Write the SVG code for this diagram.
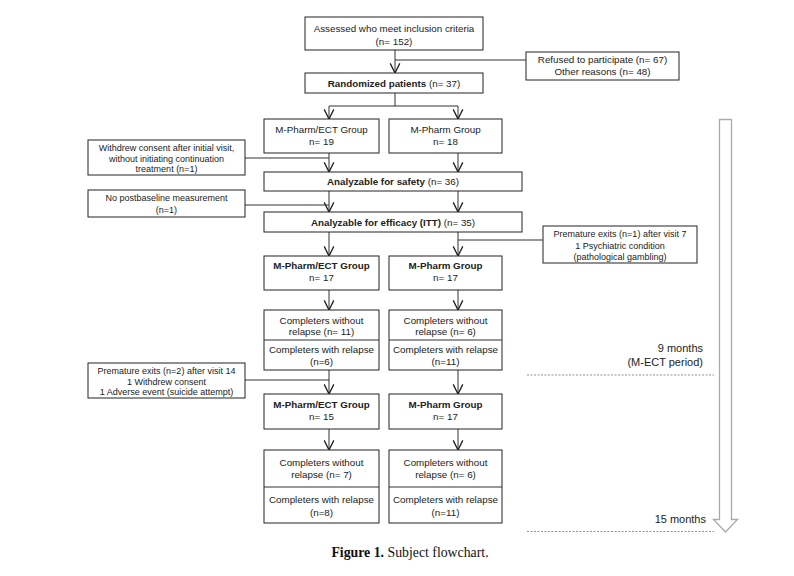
<svg xmlns="http://www.w3.org/2000/svg" width="794" height="576" viewBox="0 0 794 576">
<defs>
<marker id="ah" markerUnits="userSpaceOnUse" markerWidth="12" markerHeight="12" viewBox="0 0 10 10" refX="9" refY="5" orient="auto">
<path d="M1,1 L9,5 L1,9" fill="none" stroke="#222" stroke-width="1.1"/>
</marker>
<style>
.box{fill:#fff;stroke:#222;stroke-width:1}
.t{font-family:"Liberation Sans",Arial,sans-serif;font-size:9.8px;fill:#222;text-anchor:middle}
.s{font-family:"Liberation Sans",Arial,sans-serif;font-size:9px;fill:#222;text-anchor:middle}
.b{font-weight:bold}
.ln{fill:none;stroke:#333;stroke-width:1}
.ar{fill:none;stroke:#333;stroke-width:1;marker-end:url(#ah)}
.dash{fill:none;stroke:#777;stroke-width:0.8;stroke-dasharray:2,1.5}
.tm{font-family:"Liberation Sans",Arial,sans-serif;font-size:11px;fill:#222;text-anchor:end}
</style>
</defs>
<rect width="794" height="576" fill="#fff"/>

<g id="connectors">
<path class="ar" d="M395,50 V73"/>
<path class="ln" d="M395,60 H526"/>
<path class="ln" d="M395,93 V106 M329,106 H458"/>
<path class="ar" d="M329,106 V119"/>
<path class="ar" d="M458,106 V119"/>
<path class="ar" d="M329,153 V172"/>
<path class="ar" d="M458,153 V172"/>
<path class="ln" d="M245,158 H329"/>
<path class="ar" d="M329,191 V212"/>
<path class="ar" d="M458,191 V212"/>
<path class="ln" d="M245,205 H329"/>
<path class="ar" d="M329,232 V256"/>
<path class="ar" d="M458,232 V256"/>
<path class="ln" d="M458,240 H543"/>
<path class="ar" d="M329,290 V310"/>
<path class="ar" d="M458,290 V310"/>
<path class="ar" d="M329,370 V394"/>
<path class="ar" d="M458,370 V394"/>
<path class="ln" d="M245,380 H329"/>
<path class="ar" d="M329,429 V450"/>
<path class="ar" d="M458,429 V450"/>
</g>

<g id="n-assessed">
<rect class="box" x="305" y="17" width="178" height="33"/>
<text class="t" x="394" y="32">Assessed who meet inclusion criteria</text>
<text class="t" x="394" y="45">(n= 152)</text>
</g>
<g id="n-refused">
<rect class="box" x="526" y="52" width="153" height="28"/>
<text class="t" x="602.5" y="63">Refused to participate (n= 67)</text>
<text class="t" x="602.5" y="75">Other reasons (n= 48)</text>
</g>
<g id="n-randomized">
<rect class="box" x="305" y="73" width="178" height="20"/>
<text class="t" x="394" y="86.5"><tspan class="b">Randomized patients</tspan> (n= 37)</text>
</g>
<g id="n-ect19">
<rect class="box" x="264" y="119" width="115" height="34"/>
<text class="t" x="321.5" y="133">M-Pharm/ECT Group</text>
<text class="t" x="321.5" y="145">n= 19</text>
</g>
<g id="n-ph18">
<rect class="box" x="389" y="119" width="113" height="34"/>
<text class="t" x="445.5" y="133">M-Pharm Group</text>
<text class="t" x="445.5" y="145">n= 18</text>
</g>
<g id="n-withdrew">
<rect class="box" x="88" y="140" width="157" height="35"/>
<text class="s" x="166.5" y="151">Withdrew consent after initial visit,</text>
<text class="s" x="166.5" y="161.5">without initiating continuation</text>
<text class="s" x="166.5" y="172">treatment (n=1)</text>
</g>
<g id="n-safety">
<rect class="box" x="264" y="172" width="258" height="19"/>
<text class="t" x="393" y="185"><tspan class="b">Analyzable for safety</tspan>  (n= 36)</text>
</g>
<g id="n-nopost">
<rect class="box" x="88" y="190" width="157" height="27"/>
<text class="s" x="166.5" y="201">No postbaseline measurement</text>
<text class="s" x="166.5" y="212.5">(n=1)</text>
</g>
<g id="n-efficacy">
<rect class="box" x="264" y="212" width="258" height="20"/>
<text class="t" x="393" y="225.5"><tspan class="b">Analyzable for efficacy (ITT)</tspan> (n= 35)</text>
</g>
<g id="n-premature1">
<rect class="box" x="543" y="226" width="154" height="37"/>
<text class="s" x="620" y="237">Premature exits (n=1) after visit 7</text>
<text class="s" x="620" y="248.5">1 Psychiatric condition</text>
<text class="s" x="620" y="260">(pathological gambling)</text>
</g>
<g id="n-ect17">
<rect class="box" x="264" y="256" width="115" height="34"/>
<text class="t b" x="321.5" y="269">M-Pharm/ECT Group</text>
<text class="t" x="321.5" y="281">n= 17</text>
</g>
<g id="n-ph17a">
<rect class="box" x="389" y="256" width="113" height="34"/>
<text class="t b" x="445.5" y="269">M-Pharm Group</text>
<text class="t" x="445.5" y="281">n= 17</text>
</g>
<g id="n-comp-ect9">
<rect class="box" x="264" y="310" width="115" height="60"/>
<line class="ln" x1="264" y1="340" x2="379" y2="340"/>
<text class="t" x="321.5" y="324">Completers without</text>
<text class="t" x="321.5" y="335">relapse (n= 11)</text>
<text class="t" x="321.5" y="353">Completers with relapse</text>
<text class="t" x="321.5" y="365">(n=6)</text>
</g>
<g id="n-comp-ph9">
<rect class="box" x="389" y="310" width="113" height="60"/>
<line class="ln" x1="389" y1="340" x2="502" y2="340"/>
<text class="t" x="445.5" y="324">Completers without</text>
<text class="t" x="445.5" y="335">relapse (n= 6)</text>
<text class="t" x="445.5" y="353">Completers with relapse</text>
<text class="t" x="445.5" y="365">(n=11)</text>
</g>
<g id="n-premature2">
<rect class="box" x="88" y="363" width="157" height="35"/>
<text class="s" x="166.5" y="374">Premature exits (n=2) after visit 14</text>
<text class="s" x="166.5" y="384.5">1 Withdrew consent</text>
<text class="s" x="166.5" y="395">1 Adverse event (suicide attempt)</text>
</g>
<g id="n-ect15">
<rect class="box" x="264" y="394" width="115" height="35"/>
<text class="t b" x="321.5" y="408">M-Pharm/ECT Group</text>
<text class="t" x="321.5" y="420">n= 15</text>
</g>
<g id="n-ph17b">
<rect class="box" x="389" y="394" width="113" height="35"/>
<text class="t b" x="445.5" y="408">M-Pharm Group</text>
<text class="t" x="445.5" y="420">n= 17</text>
</g>
<g id="n-comp-ect15">
<rect class="box" x="264" y="450" width="115" height="73"/>
<line class="ln" x1="264" y1="487" x2="379" y2="487"/>
<text class="t" x="321.5" y="466">Completers without</text>
<text class="t" x="321.5" y="478">relapse (n= 7)</text>
<text class="t" x="321.5" y="503">Completers with relapse</text>
<text class="t" x="321.5" y="516">(n=8)</text>
</g>
<g id="n-comp-ph15">
<rect class="box" x="389" y="450" width="113" height="73"/>
<line class="ln" x1="389" y1="487" x2="502" y2="487"/>
<text class="t" x="445.5" y="466">Completers without</text>
<text class="t" x="445.5" y="478">relapse (n= 6)</text>
<text class="t" x="445.5" y="503">Completers with relapse</text>
<text class="t" x="445.5" y="516">(n=11)</text>
</g>

<g id="timeline">
<path d="M719.5,119.5 H731.5 V519.5 H737.5 L725.5,532 L713.5,519.5 H719.5 Z" fill="#fff" stroke="#aaa" stroke-width="1.3"/>
<line class="dash" x1="527" y1="375" x2="714" y2="375"/>
<line class="dash" x1="527" y1="531.5" x2="714" y2="531.5"/>
<text class="tm" x="703" y="352">9 months</text>
<text class="tm" x="703" y="366">(M-ECT period)</text>
<text class="tm" x="706" y="523">15 months</text>
</g>

<text x="410" y="557" font-family="'Liberation Serif','Times New Roman',serif" font-size="13.8" fill="#111" text-anchor="middle"><tspan font-weight="bold">Figure 1.</tspan> Subject flowchart.</text>
</svg>
